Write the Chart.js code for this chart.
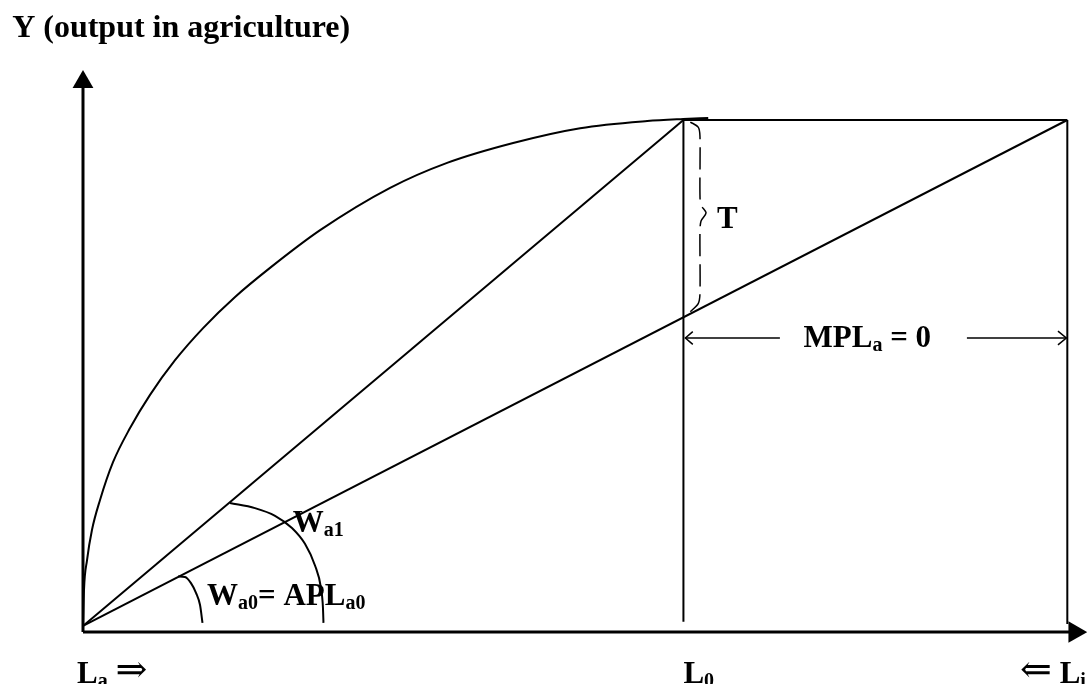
<!DOCTYPE html>
<html><head><meta charset="utf-8">
<script src="https://cdn.jsdelivr.net/npm/chart.js@4"></script>
<style>html,body{margin:0;padding:0;background:#fff;overflow:hidden}canvas{display:block}</style>
</head><body>
<canvas id="c" width="1087" height="684"></canvas>
<script>
// ---- data (labour units on x, output units on y) ----
const curveX = [0, 0.10, 0.41, 0.91, 1.73, 3.05, 4.78, 6.81, 9.35, 12.20, 15.45, 19.00, 24.09, 31.20, 36.99, 43.70, 50.51, 57.32, 60.98, 63.52];
const curveY = [0.8, 7.8, 13.7, 19.6, 25.5, 32.9, 39.6, 46.1, 52.9, 59.2, 65.3, 71.0, 78.4, 86.7, 91.6, 95.5, 98.4, 99.8, 100.2, 100.4];
const L0 = 61;          // labour at which MPL becomes zero
const LMAX = 100;       // total labour
const YMAX = 100;       // output at L0
const ORIGIN_Y = 0.8;
const bigArcX = [14.93, 17.47, 19.51, 21.23, 22.55, 23.56, 24.18, 24.38, 24.43];
const bigArcY = [24.9, 23.9, 22.4, 20.0, 16.9, 12.7, 8.2, 4.3, 1.4];
const smallArcX = [9.65, 10.36, 10.97, 11.48, 11.89, 12.14];
const smallArcY = [10.5, 10.4, 9.2, 7.3, 4.9, 1.4];
const braceX = [61.7, 62.5, 62.68, 62.68, 62.79, 63.3, 62.79, 62.68, 62.68, 62.5, 61.7];
const braceY = [99.6, 98.6, 96.8, 85.3, 83.3, 81.8, 80.2, 78.2, 66.0, 64.0, 62.4];
const mplY = 57.25;
const mplLeft = [61.2, 70.8];
const mplRight = [89.8, 99.9];

const pts = (xs, ys) => xs.map((v, i) => ({x: v, y: ys[i]}));
function seg(data, extra) {
  return Object.assign({data, borderColor: '#000', borderWidth: 2, pointRadius: 0,
    showLine: true, fill: false, tension: 0, clip: false}, extra || {});
}

const datasets = [
  // axes
  seg([{x: 0, y: -0.4}, {x: 0, y: 106.5}], {borderWidth: 3}),
  seg([{x: 0, y: -0.4}, {x: 100.6, y: -0.4}], {borderWidth: 3}),
  // arrow heads of axes
  {data: [{x: 0, y: 107.45}], showLine: false, pointStyle: 'triangle', pointRadius: 12,
    pointBackgroundColor: '#000', pointBorderColor: '#000', pointBorderWidth: 0, clip: false},
  {data: [{x: 100.75, y: -0.4}], showLine: false, pointStyle: 'triangle', pointRadius: 12.5, pointRotation: 90,
    pointBackgroundColor: '#000', pointBorderColor: '#000', pointBorderWidth: 0, clip: false},
  // production function
  seg(pts(curveX, curveY), {cubicInterpolationMode: 'monotone', borderWidth: 2}),
  // rays from origin
  seg([{x: 0, y: ORIGIN_Y}, {x: L0, y: YMAX}]),
  seg([{x: 0, y: ORIGIN_Y}, {x: LMAX, y: YMAX}]),
  // box
  seg([{x: L0, y: YMAX}, {x: L0, y: 1.6}]),
  seg([{x: L0, y: YMAX}, {x: LMAX, y: YMAX}]),
  seg([{x: LMAX, y: YMAX}, {x: LMAX, y: 1.2}]),
  // angle arcs
  seg(pts(bigArcX, bigArcY), {cubicInterpolationMode: 'monotone'}),
  seg(pts(smallArcX, smallArcY), {cubicInterpolationMode: 'monotone'}),
  // brace T
  seg(pts(braceX, braceY), {tension: 0.3, borderWidth: 1.5, borderDash: [22, 8]}),
  // MPL = 0 arrows
  seg([{x: mplLeft[0], y: mplY}, {x: mplLeft[1], y: mplY}], {borderWidth: 1.5}),
  seg([{x: mplRight[0], y: mplY}, {x: mplRight[1], y: mplY}], {borderWidth: 1.5}),
  seg([{x: mplLeft[0] + 0.75, y: mplY + 1.25}, {x: mplLeft[0], y: mplY}, {x: mplLeft[0] + 0.75, y: mplY - 1.25}], {borderWidth: 1.5}),
  seg([{x: mplRight[1] - 0.85, y: mplY + 1.35}, {x: mplRight[1], y: mplY}, {x: mplRight[1] - 0.85, y: mplY - 1.35}], {borderWidth: 1.5})
];

const FAMILY = '"Liberation Serif", "DejaVu Serif", serif';
const MAIN_FONT = 'bold 31px ' + FAMILY;
const TITLE_FONT = 'bold 32px ' + FAMILY;
const SUB_FONT = 'bold 20px ' + FAMILY;
const ARROW_FONT = '38px "DejaVu Serif", serif';
const SUB_DY = 4;
const LABELS = [
  {x: -7.2, y: 116.3, font: TITLE_FONT, parts: [{t: 'Y (output in agriculture)'}]},
  {x: 64.4, y: 78.8, parts: [{t: 'T'}]},
  {x: 73.2, y: 55.5, parts: [{t: 'MPL'}, {t: 'a', sub: true}, {t: ' = 0'}]},
  {x: 21.3, y: 19.2, parts: [{t: 'W'}, {t: 'a1', sub: true}]},
  {x: 12.6, y: 4.9, parts: [{t: 'W'}, {t: 'a0', sub: true}, {t: '= APL'}, {t: 'a0', sub: true}]},
  {x: -0.6, y: -10.3, parts: [{t: 'L'}, {t: 'a', sub: true}, {t: ' '}, {t: '\u21D2', arrow: true}]},
  {x: 61.0, y: -10.3, parts: [{t: 'L'}, {t: '0', sub: true}]},
  {x: 95.2, y: -10.3, parts: [{t: '\u21D0', arrow: true}, {t: ' L'}, {t: 'i', sub: true}]}
];

const labelPlugin = {
  id: 'labels',
  afterDatasetsDraw(chart) {
    const {ctx, scales: {x, y}} = chart;
    ctx.save();
    ctx.fillStyle = '#000';
    ctx.textBaseline = 'alphabetic';
    ctx.textAlign = 'left';
    for (const lb of LABELS) {
      let px = x.getPixelForValue(lb.x);
      const py = y.getPixelForValue(lb.y);
      for (const p of lb.parts) {
        ctx.font = p.sub ? SUB_FONT : p.arrow ? ARROW_FONT : (lb.font || MAIN_FONT);
        ctx.fillText(p.t, px, py + (p.sub ? SUB_DY : p.arrow ? -1 : 0));
        px += ctx.measureText(p.t).width;
      }
    }
    ctx.restore();
  }
};

new Chart(document.getElementById('c'), {
  type: 'scatter',
  data: {datasets},
  options: {
    responsive: false,
    devicePixelRatio: 1,
    animation: false,
    events: [],
    layout: {autoPadding: false, padding: {left: 63.31, right: 0, top: 69, bottom: 43.8}},
    scales: {
      x: {type: 'linear', min: -2, max: 102, display: false},
      y: {type: 'linear', min: -2, max: 110, display: false}
    },
    plugins: {legend: {display: false}, tooltip: {enabled: false}, title: {display: false}}
  },
  plugins: [labelPlugin]
});
</script>
</body></html>
